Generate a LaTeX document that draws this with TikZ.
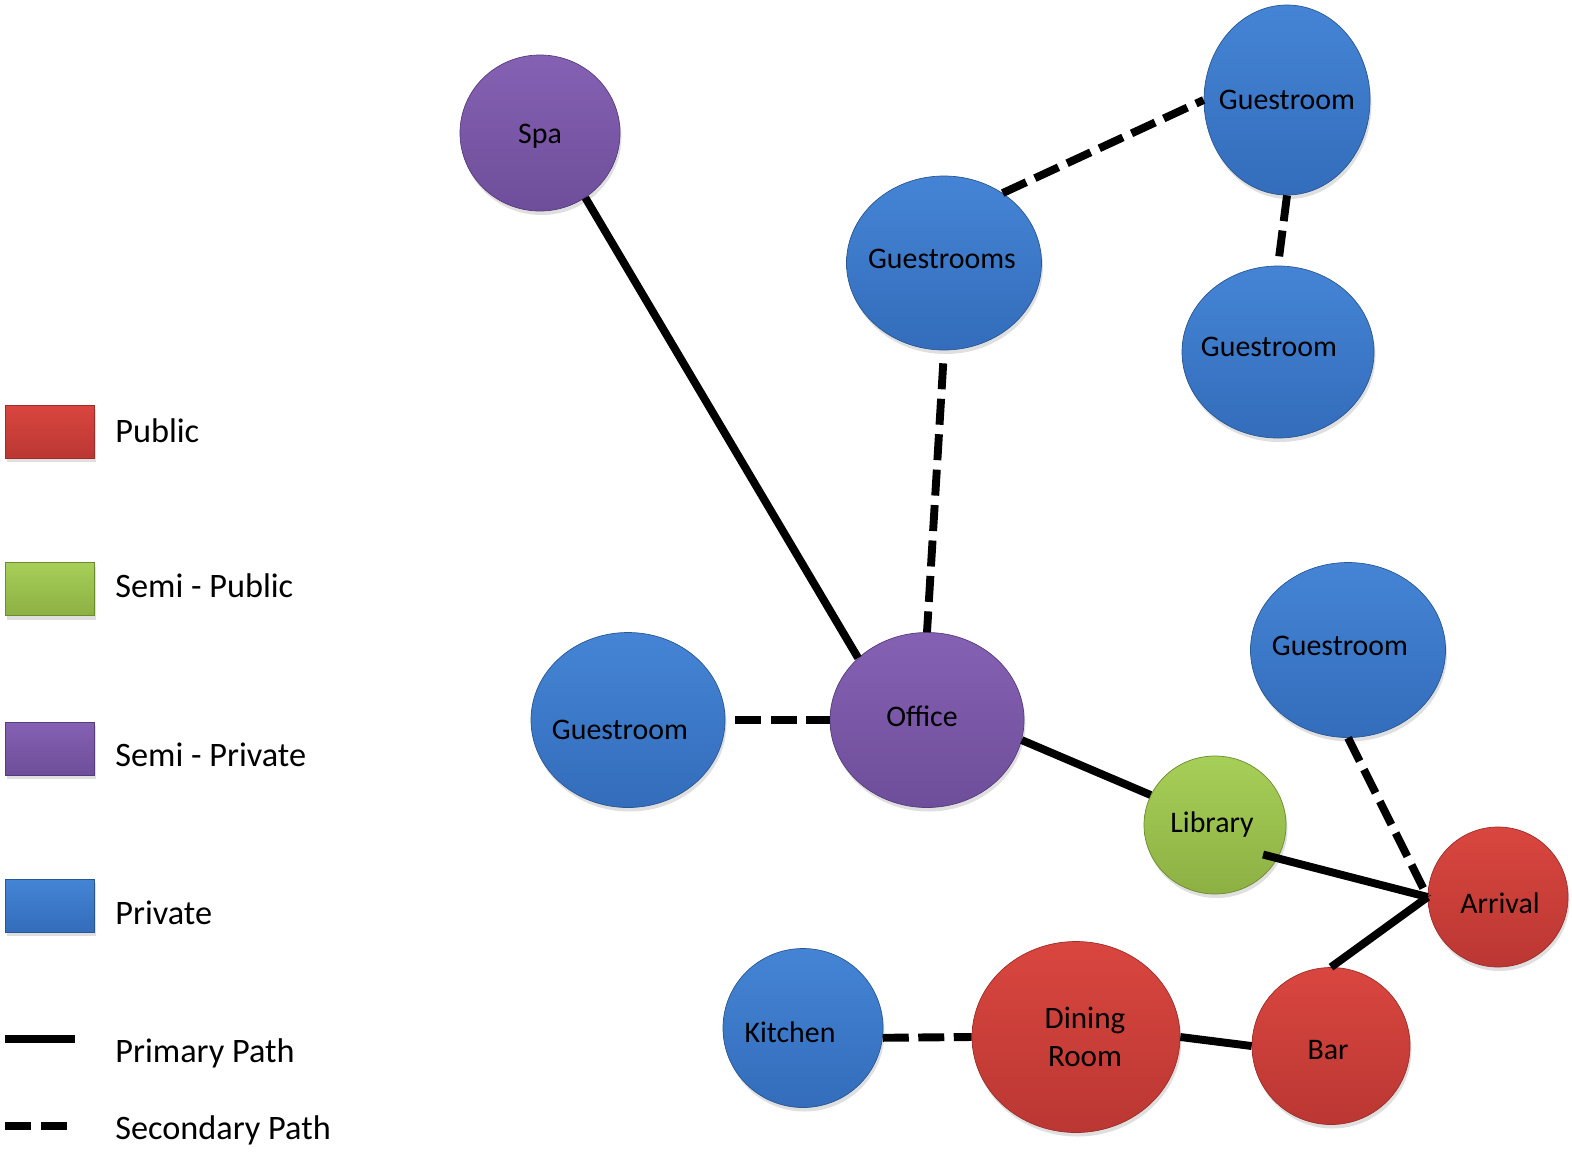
\documentclass[tikz,border=0pt]{standalone}
\usepackage{fontspec}
\setmainfont{Carlito}
\usepackage{tikz}
\usetikzlibrary{shapes.geometric, positioning, shadows}
\definecolor{pub-top}{HTML}{D9463F}
\definecolor{pub-bot}{HTML}{BB3733}
\definecolor{pub-line}{HTML}{9C2D2A}
\definecolor{semipub-top}{HTML}{A6CF58}
\definecolor{semipub-bot}{HTML}{8DB043}
\definecolor{semipub-line}{HTML}{6D8B2F}
\definecolor{semipriv-top}{HTML}{8561B3}
\definecolor{semipriv-bot}{HTML}{6E4E9A}
\definecolor{semipriv-line}{HTML}{563C7C}
\definecolor{priv-top}{HTML}{4584D5}
\definecolor{priv-bot}{HTML}{336DBB}
\definecolor{priv-line}{HTML}{285793}

\begin{document}
\begin{tikzpicture}[
    room/.style={ellipse, inner sep=0pt,
        drop shadow={opacity=0.25, shadow xshift=0.03cm, shadow yshift=-0.08cm}},
    every label/.style={font=\fontsize{17}{21.5}\selectfont, align=center, inner sep=0pt},
    public/.style={room, top color=pub-top, bottom color=pub-bot, draw=pub-line},
    semipublic/.style={room, top color=semipub-top, bottom color=semipub-bot, draw=semipub-line},
    semiprivate/.style={room, top color=semipriv-top, bottom color=semipriv-bot, draw=semipriv-line},
    private/.style={room, top color=priv-top, bottom color=priv-bot, draw=priv-line},
    key/.style={rectangle, minimum width=1.78cm, minimum height=1.06cm, inner sep=0pt,
        drop shadow={opacity=0.25, shadow xshift=0.03cm, shadow yshift=-0.08cm}},
    keytext/.style={anchor=west, inner sep=0pt, font=\fontsize{19.5}{23}\selectfont},
    primary/.style={line width=4.5pt, black},
    secondary/.style={line width=4.5pt, black, dash pattern=on 0.52cm off 0.19cm}
]
    \useasboundingbox (0,0) rectangle (31.44,-23.06);

    % rooms
    \node[semiprivate, minimum width=3.2cm, minimum height=3.12cm,
        label={[shift={(0,-0.06)}]center:Spa}] (spa) at (10.8,-2.66) {};
    \node[private, minimum width=3.32cm, minimum height=3.8cm,
        label={center:Guestroom}] (gtop) at (25.74,-2.0) {};
    \node[private, minimum width=3.9cm, minimum height=3.48cm,
        label={[shift={(-0.04,0.08)}]center:Guestrooms}] (gsts) at (18.88,-5.26) {};
    \node[private, minimum width=3.84cm, minimum height=3.44cm,
        label={[shift={(-0.18,0.1)}]center:Guestroom}] (gmid) at (25.56,-7.04) {};
    \node[private, minimum width=3.9cm, minimum height=3.5cm,
        label={[shift={(-0.16,0.08)}]center:Guestroom}] (gright) at (26.96,-13.0) {};
    \node[private, minimum width=3.88cm, minimum height=3.5cm,
        label={[shift={(-0.16,-0.2)}]center:Guestroom}] (gleft) at (12.56,-14.4) {};
    \node[semiprivate, minimum width=3.88cm, minimum height=3.5cm,
        label={[shift={(-0.1,0.08)}]center:Office}] (office) at (18.54,-14.4) {};
    \node[semipublic, minimum width=2.84cm, minimum height=2.76cm,
        label={[shift={(-0.06,0)}]center:Library}] (library) at (24.3,-16.5) {};
    \node[public, minimum width=2.8cm, minimum height=2.8cm,
        label={[shift={(0.04,-0.12)}]center:Arrival}] (arrival) at (29.96,-17.94) {};
    \node[private, minimum width=3.2cm, minimum height=3.18cm,
        label={[shift={(-0.26,-0.08)}]center:Kitchen}] (kitchen) at (16.06,-20.56) {};
    \node[public, minimum width=4.16cm, minimum height=3.82cm,
        label={[shift={(0.18,0)}, font=\fontsize{17.7}{22}\selectfont]center:Dining\\Room}] (dining) at (21.52,-20.74) {};
    \node[public, minimum width=3.16cm, minimum height=3.14cm,
        label={[shift={(-0.06,-0.08)}]center:Bar}] (bar) at (26.62,-20.92) {};

    % paths
    \draw[primary] (spa.-55) -- (office.138);
    \draw[secondary, shorten <=0.26cm] (gsts.south) -- (office.north);
    \draw[secondary] (gsts.50) -- (gtop.west);
    \draw[secondary] (gtop.south) -- (gmid.north);
    \draw[secondary, shorten <=0.2cm] (gleft.east) -- (office.west);
    \draw[primary] (office.-12) -- (library.155);
    \draw[primary, shorten <=-0.3cm] (library.-28) -- (arrival.west);
    \draw[secondary] (gright.south) -- (arrival.west);
    \draw[primary] (bar.north) -- (arrival.west);
    \draw[secondary] (kitchen.-7) -- (dining.west);
    \draw[primary] (dining.east) -- (bar.west);

    % legend
    \node[key, top color=pub-top, bottom color=pub-bot, draw=pub-line] (kpub) at (0.99,-8.63) {};
    \node[keytext] at (2.3,-8.62) {Public};
    \node[key, top color=semipub-top, bottom color=semipub-bot, draw=semipub-line] (ksemipub) at (0.99,-11.78) {};
    \node[keytext] at (2.3,-11.72) {Semi - Public};
    \node[key, top color=semipriv-top, bottom color=semipriv-bot, draw=semipriv-line] (ksemipriv) at (0.99,-14.97) {};
    \node[keytext] at (2.3,-15.1) {Semi - Private};
    \node[key, top color=priv-top, bottom color=priv-bot, draw=priv-line] (kpriv) at (0.99,-18.11) {};
    \node[keytext] at (2.3,-18.26) {Private};
    \draw[primary] (0.1,-20.78) -- (1.5,-20.78);
    \node[keytext] at (2.3,-21.06) {Primary Path};
    \draw[line width=4.5pt, dash pattern=on 0.52cm off 0.2cm] (0.1,-22.52) -- (1.34,-22.52);
    \node[keytext] at (2.3,-22.6) {Secondary Path};
\end{tikzpicture}
\end{document}
